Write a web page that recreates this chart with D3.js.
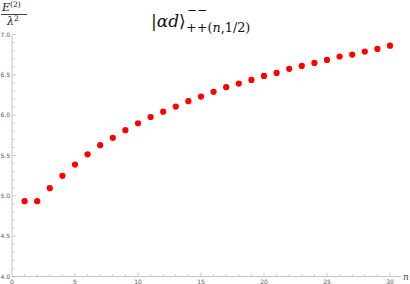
<!DOCTYPE html>
<html>
<head>
<meta charset="utf-8">
<script src="https://cdn.jsdelivr.net/npm/d3@7"></script>
<style>
  body { margin: 0; background: #fff; }
  svg { display: block; }
</style>
</head>
<body>
<div id="chart"></div>
<script>
// values, n = 1..30
const nValues = d3.range(1, 31);
const energy = [4.934, 4.934, 5.095, 5.248, 5.388, 5.515, 5.628, 5.719, 5.814, 5.900,
                5.977, 6.043, 6.107, 6.173, 6.230, 6.289, 6.347, 6.392, 6.437, 6.487,
                6.524, 6.574, 6.611, 6.648, 6.685, 6.727, 6.751, 6.788, 6.821, 6.862];
const xTicks = [0, 5, 10, 15, 20, 25, 30];
const yTicks = [4.0, 4.5, 5.0, 5.5, 6.0, 6.5, 7.0];

const width = 410, height = 284;
const svg = d3.select("#chart").append("svg")
              .attr("width", width)
              .attr("height", height);

const x = d3.scaleLinear().domain([0, 30]).range([12, 390]);
const y = d3.scaleLinear().domain([4, 7]).range([276.5, 34.5]);

const axisColor = "#b8b8b8";
const labelColor = "#555";

// x axis
const gx = svg.append("g");
gx.append("line")
  .attr("x1", x(0)).attr("x2", 401)
  .attr("y1", y(4)).attr("y2", y(4))
  .attr("stroke", axisColor).attr("stroke-width", 0.8);
gx.selectAll("line.tick")
  .data(d3.range(1, 31))
  .join("line")
  .attr("class", "tick")
  .attr("x1", d => x(d)).attr("x2", d => x(d))
  .attr("y1", y(4))
  .attr("y2", d => y(4) - (d % 5 === 0 ? 4 : 2.5))
  .attr("stroke", axisColor).attr("stroke-width", 0.7);
gx.selectAll("text")
  .data(xTicks)
  .join("text")
  .attr("x", d => x(d))
  .attr("y", y(4) + 7)
  .attr("text-anchor", "middle")
  .attr("font-family", "DejaVu Sans, sans-serif")
  .attr("font-size", 6)
  .attr("fill", labelColor)
  .text(d => d);

// y axis
const gy = svg.append("g");
gy.append("line")
  .attr("x1", x(0)).attr("x2", x(0))
  .attr("y1", y(4)).attr("y2", y(7))
  .attr("stroke", axisColor).attr("stroke-width", 0.8);
gy.selectAll("line.tick")
  .data(d3.range(40, 71).map(d => d / 10))
  .join("line")
  .attr("class", "tick")
  .attr("x1", x(0))
  .attr("x2", (d, i) => x(0) + (i % 5 === 0 ? 4 : 2.5))
  .attr("y1", d => y(d)).attr("y2", d => y(d))
  .attr("stroke", axisColor).attr("stroke-width", 0.7);
gy.selectAll("text")
  .data(yTicks)
  .join("text")
  .attr("x", x(0) - 2)
  .attr("y", d => y(d) + 2)
  .attr("text-anchor", "end")
  .attr("font-family", "DejaVu Sans, sans-serif")
  .attr("font-size", 6)
  .attr("fill", labelColor)
  .text(d => d.toFixed(1));

// axis labels
svg.append("text")
   .attr("x", 403).attr("y", 280)
   .attr("font-family", "DejaVu Serif, serif")
   .attr("font-style", "italic")
   .attr("font-size", 9)
   .attr("fill", "#444")
   .text("n");

const yl = svg.append("g").attr("font-family", "DejaVu Serif, serif").attr("fill", "#111");
const num = yl.append("text").attr("x", 2).attr("y", 11).attr("font-size", 11);
num.append("tspan").attr("font-style", "italic").text("E");
num.append("tspan").attr("dy", -4).attr("font-size", 7.5).text("(2)");
yl.append("line")
  .attr("x1", 1).attr("x2", 27).attr("y1", 14.5).attr("y2", 14.5)
  .attr("stroke", "#111").attr("stroke-width", 0.8);
const den = yl.append("text").attr("x", 7).attr("y", 25).attr("font-size", 11);
den.append("tspan").attr("font-style", "italic").text("λ");
den.append("tspan").attr("dy", -4).attr("font-size", 7.5).text("2");

// title
const tg = svg.append("g").attr("font-family", "DejaVu Serif, serif").attr("fill", "#111");
tg.append("text").attr("x", 151).attr("y", 27).attr("font-size", 17)
  .html('|<tspan font-style="italic">αd</tspan>⟩');
tg.append("text").attr("x", 187).attr("y", 14).attr("font-size", 12).text("−−");
tg.append("text").attr("x", 186).attr("y", 32).attr("font-size", 12.8)
  .html('++(<tspan font-style="italic">n</tspan>,1/2)');

// points
svg.append("g")
   .selectAll("circle")
   .data(nValues.map((n, i) => [n, energy[i]]))
   .join("circle")
   .attr("cx", d => x(d[0]))
   .attr("cy", d => y(d[1]))
   .attr("r", 3.1)
   .attr("fill", "#ff0000");
</script>
</body>
</html>
